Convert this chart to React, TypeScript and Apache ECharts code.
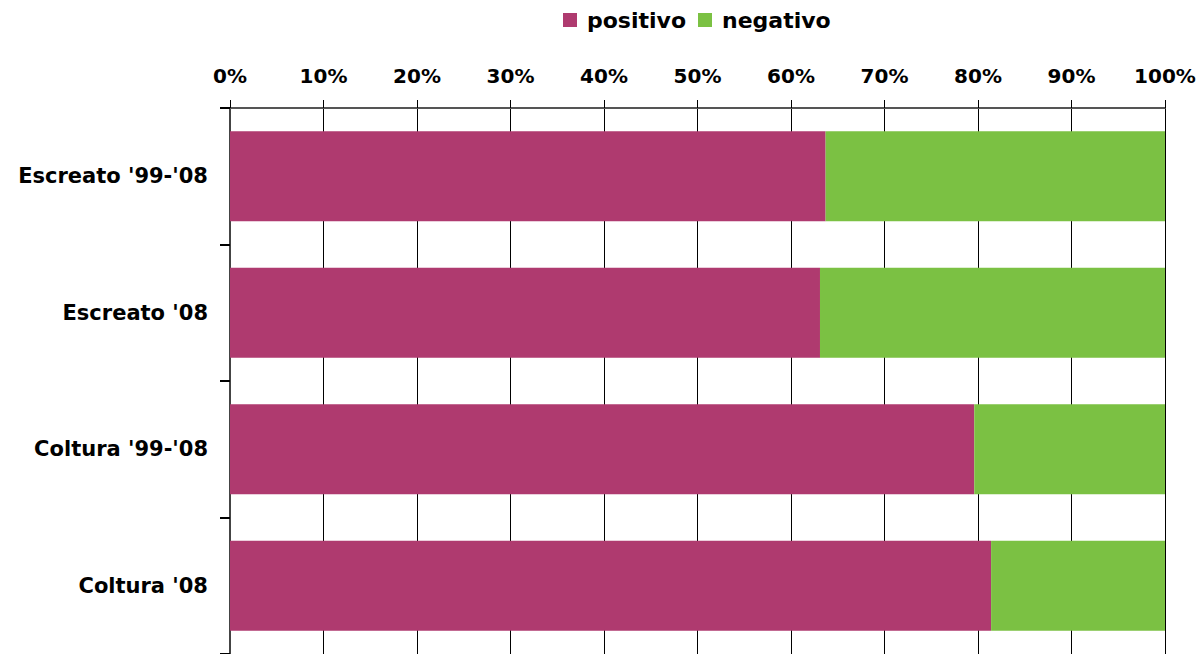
import React, { useEffect, useRef } from "react";
import * as echarts from "echarts";

const categories = ["Escreato '99-'08", "Escreato '08", "Coltura '99-'08", "Coltura '08"];
const positivo = [63.7, 63.1, 79.6, 81.4];
const negativo = [36.3, 36.9, 20.4, 18.6];
const seriesNames = ["positivo", "negativo"];

export default function App() {
  const ref = useRef<HTMLDivElement>(null);
  useEffect(() => {
    const chart = echarts.init(ref.current!, null, { renderer: "svg" });
    const font = "'DejaVu Sans', Arial, sans-serif";
    chart.setOption({
      animation: false,
      legend: {
        top: 4,
        left: 558,
        icon: "rect",
        itemWidth: 14,
        itemHeight: 14,
        itemGap: 12,
        textStyle: {
          fontFamily: font,
          fontWeight: "bold",
          fontSize: 22,
          color: "#000",
          padding: [0, 0, 0, 5],
        },
        data: seriesNames,
      },
      grid: { left: 230, right: 39, top: 108, bottom: -3, containLabel: false },
      xAxis: {
        type: "value",
        position: "top",
        min: 0,
        max: 100,
        interval: 10,
        axisLabel: {
          formatter: "{value}%",
          fontFamily: font,
          fontWeight: "bold",
          fontSize: 20,
          color: "#000",
          margin: 22,
        },
        axisLine: { show: true, lineStyle: { color: "#555", width: 2 } },
        axisTick: { show: true, length: 8, lineStyle: { color: "#000", width: 1 } },
        splitLine: { show: true, lineStyle: { color: "#000", width: 1 } },
      },
      yAxis: {
        type: "category",
        inverse: true,
        data: categories,
        axisLabel: {
          fontFamily: font,
          fontWeight: "bold",
          fontSize: 21,
          color: "#000",
          margin: 22,
        },
        axisLine: { show: true, lineStyle: { color: "#444", width: 2 } },
        axisTick: { show: true, length: 10, lineStyle: { color: "#000", width: 2 } },
      },
      series: [
        {
          name: seriesNames[0],
          type: "bar",
          stack: "total",
          data: positivo,
          barCategoryGap: "34%",
          itemStyle: { color: "#AF3A6F" },
        },
        {
          name: seriesNames[1],
          type: "bar",
          stack: "total",
          data: negativo,
          barCategoryGap: "34%",
          itemStyle: { color: "#7BC143" },
        },
      ],
    });
    return () => chart.dispose();
  }, []);
  return (
    <div
      ref={ref}
      style={{ position: "absolute", left: 0, top: 0, width: 1204, height: 654, background: "#fff" }}
    />
  );
}
